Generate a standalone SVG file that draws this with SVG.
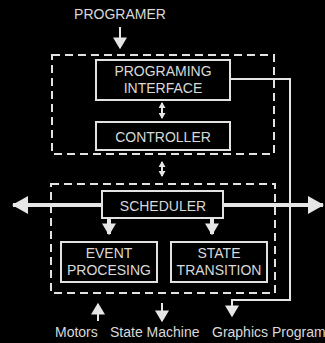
<svg xmlns="http://www.w3.org/2000/svg" width="325" height="343" viewBox="0 0 325 343">
<style>
text{font-family:"Liberation Sans",Arial,sans-serif;font-size:14px;fill:#d9d9d9}
.c{text-anchor:middle}
.box{fill:none;stroke:#e2e2e2;stroke-width:2}
.dash{fill:none;stroke:#e2e2e2;stroke-width:2;stroke-dasharray:8 5}
.ln{fill:none;stroke:#e6e6e6;stroke-width:2}
.thick{fill:none;stroke:#e6e6e6;stroke-width:4}
.hd{fill:#e6e6e6}
</style>
<defs>
<marker id="ah" markerUnits="userSpaceOnUse" markerWidth="14" markerHeight="14" refX="9" refY="6" orient="auto-start-reverse" viewBox="0 0 10 12"><path d="M0,0 L10,6 L0,12 Z" fill="#e6e6e6"/></marker>
<marker id="as" markerUnits="userSpaceOnUse" markerWidth="6" markerHeight="7" refX="5" refY="3.5" orient="auto-start-reverse" viewBox="0 0 6 7"><path d="M0,0 L6,3.5 L0,7 Z" fill="#e6e6e6"/></marker>
<marker id="ab" markerUnits="userSpaceOnUse" markerWidth="16" markerHeight="18" refX="15" refY="9" orient="auto-start-reverse" viewBox="0 0 16 18"><path d="M0,0 L16,9 L0,18 Z" fill="#e6e6e6"/></marker>
</defs>
<rect width="325" height="343" fill="#000"/>
<g id="groups">
<rect class="dash" x="52" y="55" width="222" height="99"/>
<rect class="dash" x="51" y="184" width="224" height="109"/>
</g>
<g id="connectors">
<path class="ln" d="M120,27 V48" marker-end="url(#ah)"/>
<path class="ln" d="M162,103 V118" marker-start="url(#as)" marker-end="url(#as)"/>
<path class="ln" d="M162,162 V176" marker-start="url(#as)" marker-end="url(#as)"/>
<path class="thick" d="M13,205 H323" marker-start="url(#ab)" marker-end="url(#ab)"/>
<path class="thick" d="M109,218 V234" marker-end="url(#ah)"/>
<path class="thick" d="M212,218 V234" marker-end="url(#ah)"/>
<path class="ln" d="M230,79 H290 V300 H232 V316" marker-end="url(#ah)"/>
<path class="ln" d="M98,321 V304" marker-end="url(#ah)"/>
<path class="ln" d="M162,303 V321" marker-end="url(#ah)"/>
</g>
<text id="programer" class="c" x="120" y="19">PROGRAMER</text>
<g id="programing-interface">
<rect class="box" x="96" y="60" width="134" height="40" fill="#000" style="fill:#000"/>
<text class="c" x="163" y="76">PROGRAMING</text>
<text class="c" x="163" y="93">INTERFACE</text>
</g>
<g id="controller">
<rect class="box" x="96" y="122" width="134" height="28"/>
<text class="c" x="163" y="141.5">CONTROLLER</text>
</g>
<g id="scheduler">
<rect class="box" x="102" y="191" width="121" height="27" style="fill:#000"/>
<text class="c" x="163" y="210.5">SCHEDULER</text>
</g>
<g id="event-procesing">
<rect class="box" x="61" y="242" width="96" height="40"/>
<text class="c" x="109" y="257.5">EVENT</text>
<text class="c" x="109" y="275">PROCESING</text>
</g>
<g id="state-transition">
<rect class="box" x="171" y="242" width="96" height="40"/>
<text class="c" x="219" y="257.5">STATE</text>
<text class="c" x="219" y="275">TRANSITION</text>
</g>
<g id="labels">
<text x="55" y="336.5">Motors</text>
<text x="110" y="336.5">State Machine</text>
<text x="212" y="336.5">Graphics Program</text>
</g>
</svg>
